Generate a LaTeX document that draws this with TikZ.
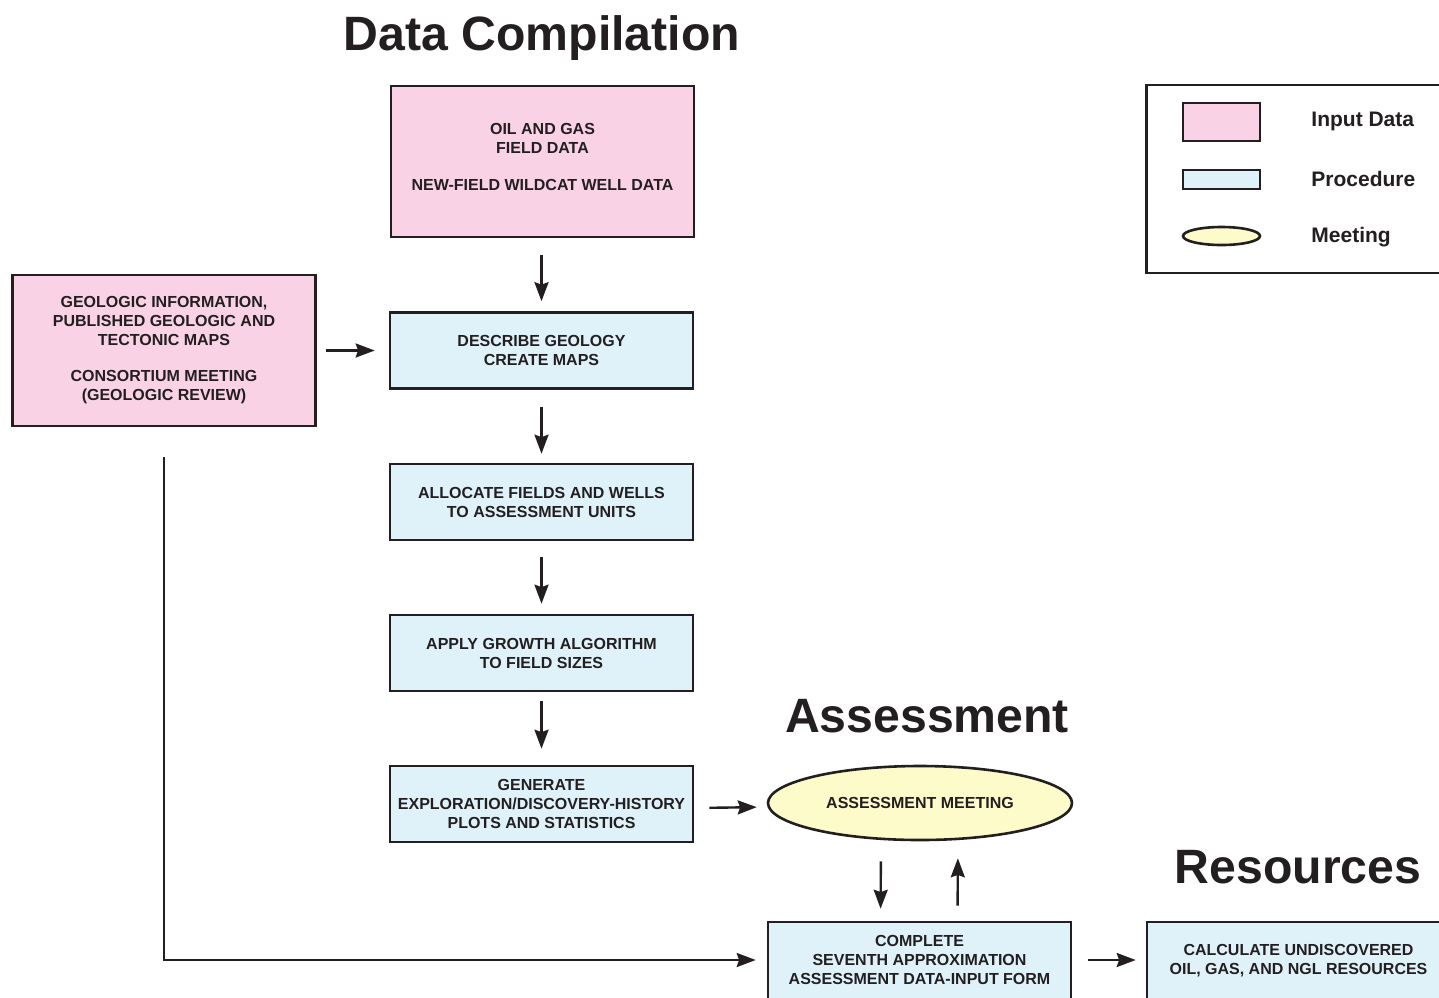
\documentclass[tikz,border=0pt]{standalone}
\usepackage{fontspec}
\setmainfont{Liberation Sans}
\usetikzlibrary{arrows.meta,shapes.geometric}
\definecolor{inkc}{HTML}{231F20}
\definecolor{pinkc}{HTML}{F9D3E5}
\definecolor{bluec}{HTML}{DFF2FA}
\definecolor{yellowc}{HTML}{FEFBCB}
% text block with extra space below it, so the lines sit higher in their box
\newcommand{\liftlines}[2]{\begin{tabular}{@{}c@{}}#2\\[#1]\end{tabular}}
\tikzset{
  boxtext/.style={font=\bfseries\fontsize{8.0}{9.5}\selectfont, text=inkc, align=center},
  inbox/.style={boxtext, draw=inkc, line width=1.3pt, fill=pinkc, rectangle, inner sep=0pt,
     minimum width=151.5pt, minimum height=75.5pt},
  procbox/.style={boxtext, draw=inkc, line width=1.3pt, fill=bluec, rectangle, inner sep=0pt,
     minimum width=151.5pt, minimum height=38pt},
  meetell/.style={boxtext, draw=inkc, line width=1.3pt, fill=yellowc, ellipse, inner sep=0pt,
     minimum width=152pt, minimum height=37pt},
  arr/.style={draw=inkc, line width=1.2pt, -{Stealth[length=9.5pt, width=7pt, inset=1.2pt]}},
  bigtitle/.style={font=\bfseries\fontsize{24.1}{28}\selectfont, text=inkc, anchor=base, inner sep=0pt},
  legtext/.style={font=\bfseries\fontsize{10.5}{12}\selectfont, text=inkc, anchor=base west, inner sep=0pt}
}
\begin{document}
\begin{tikzpicture}[x=0.5pt,y=-0.5pt]
\useasboundingbox (0,0) rectangle (1439,997);
\clip (0,0) rectangle (1439,997);

% titles
\node[bigtitle] (t1) at (542,50) {Data Compilation};
\node[bigtitle] (t2) at (927,732) {Assessment};
\node[bigtitle] (t3) at (1298,883) {Resources};

% boxes
\node[inbox] (oil) at (542.5,161.5) {\liftlines{2.75pt}{OIL AND GAS\\FIELD DATA\\[9pt]NEW-FIELD WILDCAT WELL DATA}};
\node[inbox] (geo) at (164,350.5) {GEOLOGIC INFORMATION,\\PUBLISHED GEOLOGIC AND\\TECTONIC MAPS\\[8.5pt]CONSORTIUM MEETING\\(GEOLOGIC REVIEW)};
\node[procbox] (desc) at (541.5,350.5) {DESCRIBE GEOLOGY\\CREATE MAPS};
\node[procbox] (alloc) at (541.5,502) {ALLOCATE FIELDS AND WELLS\\TO ASSESSMENT UNITS};
\node[procbox] (apply) at (541.5,653) {APPLY GROWTH ALGORITHM\\TO FIELD SIZES};
\node[procbox] (gen) at (541.5,804) {GENERATE\\EXPLORATION/DISCOVERY-HISTORY\\PLOTS AND STATISTICS};
\node[meetell] (meet) at (920,803) {ASSESSMENT MEETING};
\node[procbox, minimum height=41pt] (comp) at (919.5,963) {\liftlines{1.5pt}{COMPLETE\\SEVENTH APPROXIMATION\\ASSESSMENT DATA-INPUT FORM}};
\node[procbox, minimum height=41pt] (calc) at (1298.5,963) {\liftlines{1.5pt}{CALCULATE UNDISCOVERED\\OIL, GAS, AND NGL RESOURCES}};

% legend
\node[draw=inkc, line width=1.3pt, fill=white, rectangle, inner sep=0pt,
      minimum width=157pt, minimum height=94pt] (legend) at (1303.5,179) {};
\node[draw=inkc, line width=1.3pt, fill=pinkc, rectangle, inner sep=0pt,
      minimum width=38.5pt, minimum height=19pt] (lin) at (1221.5,122) {};
\node[draw=inkc, line width=1.3pt, fill=bluec, rectangle, inner sep=0pt,
      minimum width=38.5pt, minimum height=9.5pt] (lproc) at (1221.5,179.5) {};
\node[draw=inkc, line width=1.3pt, fill=yellowc, ellipse, inner sep=0pt,
      minimum width=38.5pt, minimum height=9pt] (lmeet) at (1221.5,236) {};
\node[legtext] (lt1) at (1311,126.5) {Input Data};
\node[legtext] (lt2) at (1311,186.5) {Procedure};
\node[legtext] (lt3) at (1311,242.5) {Meeting};

% connectors
\draw[arr, shorten <=8.5pt, shorten >=5pt] (desc.north |- oil.south) -- (desc.north);
\draw[arr, shorten <=4.5pt, shorten >=7pt] (geo.east) -- (desc.west);
\draw[arr, shorten <=8.5pt, shorten >=4.5pt] (desc.south) -- (alloc.north);
\draw[arr, shorten <=8pt, shorten >=5pt] (alloc.south) -- (apply.north);
\draw[arr, shorten <=4.5pt, shorten >=8pt] (apply.south) -- (gen.north);
\draw[arr, shorten <=7.5pt, shorten >=5pt] ([yshift=-2pt]gen.east) -- ([yshift=-2pt]meet.west);
\draw[arr, shorten <=10pt, shorten >=6pt] ([xshift=-19.5pt]meet.south) -- ([xshift=-19.5pt]comp.north);
\draw[arr, shorten <=7.5pt, shorten >=8.5pt] ([xshift=19pt]comp.north) -- ([xshift=19pt]meet.south);
\draw[arr, shorten <=15pt, shorten >=5.5pt] (geo.south) |- ([yshift=1.5pt]comp.west);
\draw[arr, shorten <=8pt, shorten >=5pt] ([yshift=1.5pt]comp.east) -- ([yshift=1.5pt]calc.west);
\end{tikzpicture}
\end{document}
